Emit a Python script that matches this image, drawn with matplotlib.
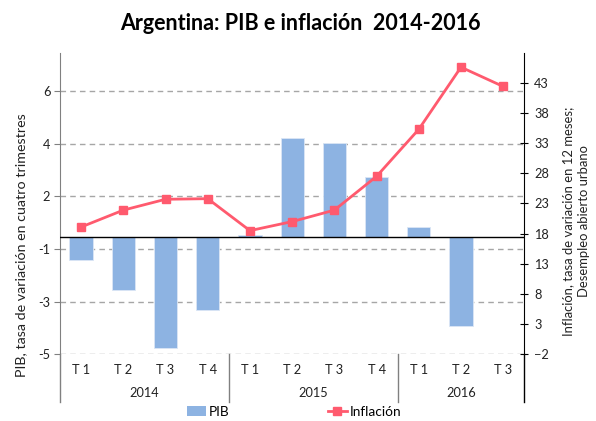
import numpy as np
import matplotlib.pyplot as plt
from matplotlib.patches import Patch
from matplotlib.lines import Line2D

plt.rcParams['font.family'] = ['Lato', 'DejaVu Sans']

# Data
quarters = ["T 1", "T 2", "T 3", "T 4", "T 1", "T 2", "T 3", "T 4", "T 1", "T 2", "T 3"]
years = ["2014", "2015", "2016"]
year_spans = [(0, 3), (4, 7), (8, 10)]
pib = [-0.94, -2.23, -4.64, -3.07, 0.08, 4.14, 3.91, 2.51, 0.41, -3.73, np.nan]
inflacion = [19.1, 21.9, 23.7, 23.8, 18.5, 20.0, 21.9, 27.5, 35.3, 45.6, 42.4]

left_ticks = [-4.9, -2.7, -0.5, 1.7, 3.9, 6.1]
left_labels = ["-5", "-3", "-1", "2", "4", "6"]
right_ticks = [-2, 3, 8, 13, 18, 23, 28, 33, 38, 43]

bar_color = "#8DB3E2"
line_color = "#FF5A6E"
txt = "#222222"
fs = 9.2

W, H = 596, 421
fig = plt.figure(figsize=(W / 100, H / 100), dpi=100)
x0, x1, y_top, y_bot = 60, 524.3, 52.7, 354.3
ax = fig.add_axes([x0 / W, 1 - y_bot / H, (x1 - x0) / W, (y_bot - y_top) / H])

x = np.arange(len(quarters))
ax.bar(x, pib, width=0.55, color=bar_color, edgecolor="#dbe6f5", linewidth=0.6, zorder=2)
ax.axhline(0, color="black", lw=1, zorder=3)

ax.set_xlim(-0.5, len(quarters) - 0.5)
ax.set_ylim(-4.9, 7.7)
ax.set_yticks(left_ticks)
ax.set_yticklabels(left_labels)
ax.set_xticks([])
ax.yaxis.grid(True, color="#a6a6a6", lw=1, dashes=(4, 3))
ax.set_axisbelow(True)
ax.tick_params(axis="y", length=4, color="#808080", labelsize=fs, labelcolor=txt, pad=3)

for s in ["top", "bottom", "right"]:
    ax.spines[s].set_visible(False)
ax.spines["left"].set_color("#808080")

# Right axis for inflation
ax2 = ax.twinx()
ax2.plot(x, inflacion, color=line_color, lw=2, marker="s", markersize=5.5, zorder=4)
ax2.set_ylim(-2, 48)
ax2.set_yticks(right_ticks)
ax2.tick_params(axis="y", direction="inout", length=6, color="black", labelsize=fs,
                labelcolor=txt, pad=4)
for s in ["top", "bottom", "left"]:
    ax2.spines[s].set_visible(False)
ax2.spines["right"].set_color("black")

# Category axis below the plot
ext = -(401.7 - y_bot) / (y_bot - y_top)
trans = ax.get_xaxis_transform()
ax.plot([-0.5, -0.5], [ext, 0], color="#808080", lw=1, transform=trans, clip_on=False)
ax.plot([10.5, 10.5], [ext, 0], color="black", lw=1, transform=trans, clip_on=False)
for a, b in year_spans[:-1]:
    ax.plot([b + 0.5, b + 0.5], [ext, 0], color="#808080", lw=1, transform=trans, clip_on=False)

q_y = -(370 - y_bot) / (y_bot - y_top)
yr_y = -(393.3 - y_bot) / (y_bot - y_top)
for i, q in enumerate(quarters):
    ax.text(i, q_y, q, transform=trans, ha="center", va="center", fontsize=fs, color=txt)
for yr, (a, b) in zip(years, year_spans):
    ax.text((a + b) / 2, yr_y, yr, transform=trans, ha="center", va="center", fontsize=fs,
            color=txt)

# Titles and axis labels
fig.text(300 / W, 1 - 23 / H, "Argentina: PIB e inflación  2014-2016", ha="center", va="center",
         fontsize=15.5, fontweight="bold")
fig.text(21 / W, 1 - 245 / H, "PIB, tasa de variación en cuatro trimestres", rotation=90,
         ha="center", va="center", fontsize=10.3, color=txt)
fig.text(576 / W, 1 - 221 / H, "Inflación, tasa de variación en 12 meses;\nDesempleo abierto urbano",
         rotation=90, ha="center", va="center", fontsize=9.4, color=txt, linespacing=1.35)

# Legend
handles = [Patch(facecolor=bar_color, edgecolor="none"),
           Line2D([0], [0], color=line_color, lw=2, marker="s", markersize=5.5)]
fig.legend(handles, ["PIB", "Inflación"], loc="center", bbox_to_anchor=(294 / W, 1 - 412 / H),
           ncol=2, frameon=False, fontsize=9.8, columnspacing=7.2, handlelength=1.4,
           handletextpad=0.2, handleheight=0.75)

fig.savefig("out.png", dpi=100)
